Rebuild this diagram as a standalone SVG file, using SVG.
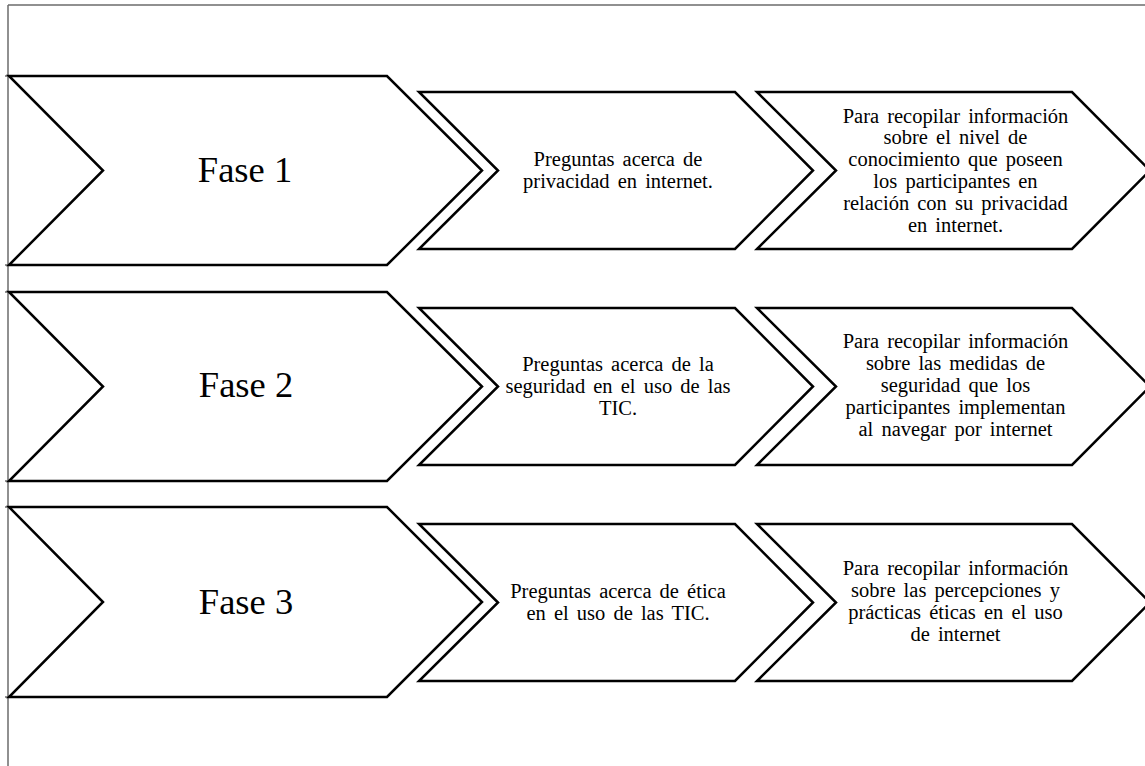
<svg xmlns="http://www.w3.org/2000/svg" width="1145" height="766" viewBox="0 0 1145 766">
<style>
.frame{stroke:#6b6b6b;stroke-width:1.5;fill:none}
.chev{fill:#fff;stroke:#000;stroke-width:2.5;stroke-linejoin:miter}
.big{font-family:"Liberation Serif","Times New Roman",serif;font-size:36.5px;fill:#000;text-anchor:middle}
.t{font-family:"Liberation Serif","Times New Roman",serif;font-size:20.5px;fill:#000;text-anchor:middle;word-spacing:3px}
</style>
<rect width="1145" height="766" fill="#fff"/>
<g id="frame">
<line class="frame" x1="8" y1="5" x2="1145" y2="5"/>
<line class="frame" x1="8" y1="5" x2="8" y2="766"/>
<line class="frame" x1="5" y1="76" x2="9" y2="76"/>
<line class="frame" x1="5" y1="265" x2="9" y2="265"/>
<line class="frame" x1="5" y1="292" x2="9" y2="292"/>
<line class="frame" x1="5" y1="481" x2="9" y2="481"/>
<line class="frame" x1="5" y1="507" x2="9" y2="507"/>
<line class="frame" x1="5" y1="697" x2="9" y2="697"/>
</g>
<g id="connectors"></g>
<g id="fase1">
<polygon class="chev" points="9,76 387,76 482,170.5 387,265 9,265 103,170.5"/>
<text class="big" x="245" y="182">Fase 1</text>
</g>
<g id="fase1-preguntas">
<polygon class="chev" points="419,92 735,92 813,170.5 735,249 419,249 498,170.5"/>
<text class="t" x="618" y="166">Preguntas acerca de</text>
<text class="t" x="618" y="188">privacidad en internet.</text>
</g>
<g id="fase1-objetivo">
<polygon class="chev" points="757,92 1072,92 1150,170.5 1072,249 757,249 836,170.5"/>
<text class="t" x="955.5" y="122.5">Para recopilar información</text>
<text class="t" x="955.5" y="144.3">sobre el nivel de</text>
<text class="t" x="955.5" y="166.1">conocimiento que poseen</text>
<text class="t" x="955.5" y="187.9">los participantes en</text>
<text class="t" x="955.5" y="209.7">relación con su privacidad</text>
<text class="t" x="955.5" y="231.5">en internet.</text>
</g>
<g id="fase2">
<polygon class="chev" points="9,292 387,292 482,386.5 387,481 9,481 103,386.5"/>
<text class="big" x="246" y="397">Fase 2</text>
</g>
<g id="fase2-preguntas">
<polygon class="chev" points="419,308 735,308 813,386.5 735,465 419,465 498,386.5"/>
<text class="t" x="618" y="371">Preguntas acerca de la</text>
<text class="t" x="618" y="393">seguridad en el uso de las</text>
<text class="t" x="618" y="415">TIC.</text>
</g>
<g id="fase2-objetivo">
<polygon class="chev" points="757,308 1072,308 1150,386.5 1072,465 757,465 836,386.5"/>
<text class="t" x="955.5" y="348">Para recopilar información</text>
<text class="t" x="955.5" y="370">sobre las medidas de</text>
<text class="t" x="955.5" y="392">seguridad que los</text>
<text class="t" x="955.5" y="414">participantes implementan</text>
<text class="t" x="955.5" y="436">al navegar por internet</text>
</g>
<g id="fase3">
<polygon class="chev" points="9,507 387,507 482,602 387,697 9,697 103,602"/>
<text class="big" x="246" y="614">Fase 3</text>
</g>
<g id="fase3-preguntas">
<polygon class="chev" points="419,524 735,524 813,602.5 735,681 419,681 498,602.5"/>
<text class="t" x="618" y="598">Preguntas acerca de ética</text>
<text class="t" x="618" y="620">en el uso de las TIC.</text>
</g>
<g id="fase3-objetivo">
<polygon class="chev" points="757,524 1072,524 1150,602.5 1072,681 757,681 836,602.5"/>
<text class="t" x="955.5" y="575">Para recopilar información</text>
<text class="t" x="955.5" y="597">sobre las percepciones y</text>
<text class="t" x="955.5" y="619">prácticas éticas en el uso</text>
<text class="t" x="955.5" y="641">de internet</text>
</g>
</svg>
